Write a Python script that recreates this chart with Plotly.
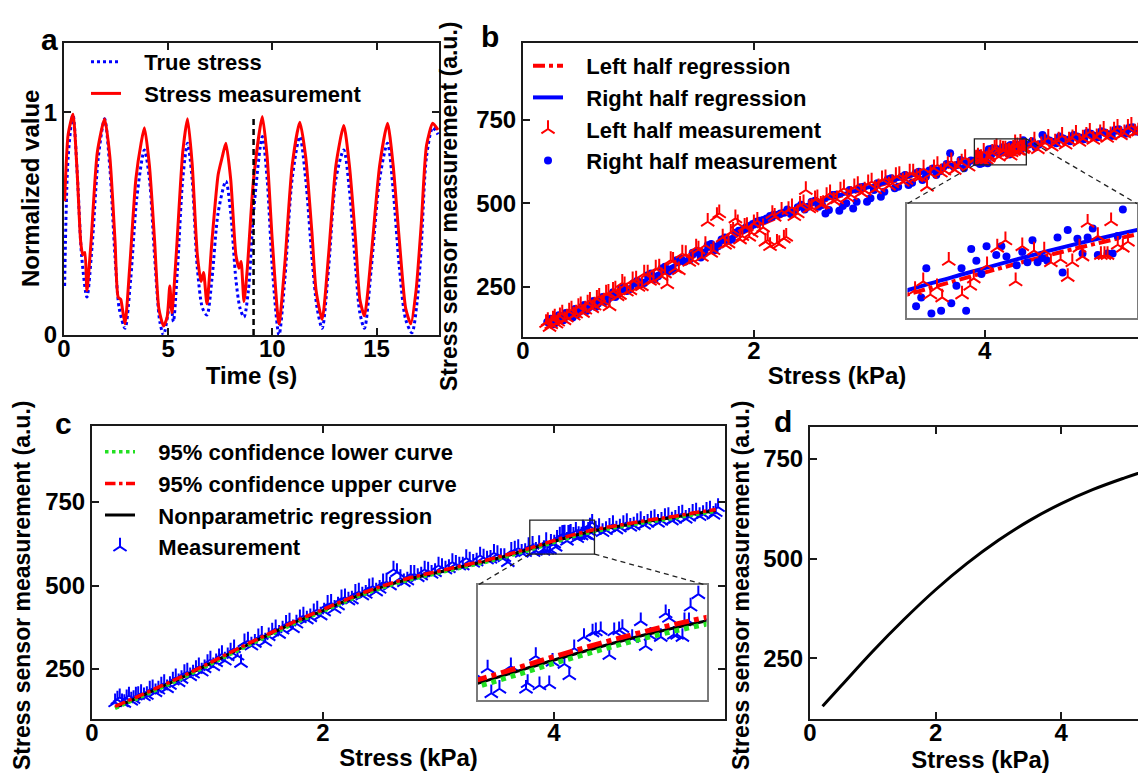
import plotly.graph_objects as go

W, H = 1146, 773

# ---------------- panel a : time series ----------------
time_true = [0.03,0.2,0.43,0.65,0.85,1.1,1.35,1.65,1.95,2.2,2.45,2.65,2.93,3.2,3.5,3.86,4.1,4.35,4.6,4.78,
             5.0,5.12,5.25,5.45,5.7,5.93,6.15,6.4,6.65,6.86,7.1,7.4,7.77,8.0,8.25,8.45,8.64,8.85,9.1,9.52,
             9.75,10.0,10.32,10.6,10.95,11.32,11.6,11.9,12.15,12.39,12.7,13.05,13.43,13.7,14.0,14.2,14.42,
             14.75,15.15,15.53,15.8,16.1,16.4,16.7,16.95,17.15,17.4,17.7,17.95]
true_stress = [0.22,0.8,0.99,0.7,0.35,0.17,0.4,0.8,0.97,0.75,0.35,0.12,0.03,0.25,0.62,0.83,0.7,0.35,0.06,0.0,
               0.1,0.15,0.06,0.3,0.7,0.86,0.7,0.3,0.12,0.09,0.25,0.55,0.69,0.55,0.25,0.12,0.08,0.2,0.55,0.89,
               0.7,0.3,0.0,0.25,0.7,0.89,0.7,0.35,0.12,0.03,0.3,0.7,0.83,0.65,0.3,0.1,0.03,
               0.3,0.7,0.86,0.65,0.3,0.07,0.01,0.15,0.4,0.8,0.93,0.9]
time_meas = [0.03,0.2,0.43,0.62,0.8,0.9,1.0,1.1,1.3,1.6,1.95,2.2,2.45,2.6,2.72,2.8,2.93,3.15,3.45,3.7,
             3.86,4.1,4.35,4.55,4.78,4.95,5.08,5.18,5.4,5.7,5.93,6.15,6.4,6.58,6.7,6.86,7.1,7.4,7.6,7.77,
             8.0,8.25,8.4,8.5,8.64,8.8,9.1,9.52,9.75,10.0,10.32,10.6,10.95,11.32,11.6,11.9,12.1,12.39,12.7,
             13.05,13.43,13.7,14.0,14.2,14.42,14.75,15.15,15.53,15.8,16.1,16.4,16.65,16.9,17.15,17.4,17.7,17.95]
stress_meas = [0.6,0.9,0.99,0.75,0.42,0.36,0.37,0.2,0.42,0.82,0.97,0.8,0.42,0.17,0.16,0.12,0.05,0.3,0.7,0.86,
               0.93,0.76,0.42,0.12,0.04,0.08,0.22,0.1,0.38,0.82,0.97,0.77,0.36,0.24,0.28,0.14,0.42,0.72,0.8,0.86,
               0.7,0.36,0.3,0.33,0.15,0.3,0.7,0.98,0.8,0.42,0.05,0.32,0.76,0.955,0.8,0.46,0.2,0.07,0.36,
               0.76,0.94,0.76,0.42,0.16,0.086,0.36,0.76,0.95,0.76,0.42,0.12,0.05,0.2,0.5,0.85,0.95,0.92]
split_time = 9.1
split_top = 0.98

# ---------------- panel b : left / right halves ----------------
reg_x = [0.2,0.4,0.6,0.8,1.0,1.2,1.4,1.6,1.8,2.0,2.2,2.4,2.6,2.8,3.0,3.2,3.4,3.6,3.8,4.0,4.2,4.4,4.6,4.8,5.0,5.2,5.4]
right_reg = [140,170,200,230,260,295,330,364,398,430,460,486,510,530,549,568,587,605,623,643,662,678,690,700,709,717,725]
left_reg = [137,167,197,227,257,292,327,361,395,427,457,483,507,527,546,565,584,602,620,640,659,675,687,697,706,714,722]

left_x = [0.20,0.23,0.26,0.29,0.32,0.36,0.40,0.44,0.48,0.52,0.56,0.60,0.64,0.68,0.72,0.75,0.78,0.82,0.86,0.90,
          0.95,1.00,1.05,1.10,1.15,1.20,1.25,1.28,1.32,1.38,1.44,1.50,1.55,1.60,1.65,1.70,1.75,1.80,1.84,1.88,
          1.92,1.96,2.00,2.05,2.10,2.14,2.18,2.22,2.26,2.30,2.35,2.40,2.45,2.50,2.55,2.60,2.66,2.72,2.78,2.84,
          2.90,2.96,3.02,3.08,3.14,3.20,3.26,3.32,3.38,3.44,3.50,3.56,3.62,3.68,3.74,3.80,3.86,
          3.925,3.941,3.955,3.968,3.978,3.991,4.017,4.033,4.040,4.066,4.086,4.102,4.122,4.135,4.158,4.178,
          4.191,4.210,4.224,4.233,4.247,4.253,4.263,4.283,4.289,4.296,4.302,4.309,4.322,4.332,4.342,
          4.40,4.46,4.52,4.58,4.64,4.70,4.76,4.82,4.88,4.94,5.00,5.06,5.12,5.18,5.24,5.30,5.35,5.40,
          0.215,0.245,0.275,0.305,0.34,0.38,0.42,0.46,0.50,0.54,0.58,0.62,0.66,0.70,0.74,0.80,0.84,0.88,0.93,0.98,
          1.03,1.08,1.13,1.18,1.23,1.30,1.35,1.41,1.47,1.52,1.58,1.63,1.68,1.73,1.78,1.82,1.86,1.90,1.94,1.98,
          2.03,2.08,2.12,2.16,2.20,2.24,2.28,2.33,2.38,2.43,2.48,2.53,2.58,2.63,2.69,2.75,2.81,2.87,2.93,2.99,
          3.05,3.11,3.17,3.23,3.29,3.35,3.41,3.47,3.53,3.59,3.65,3.71,3.77,3.83,
          4.43,4.49,4.55,4.61,4.67,4.73,4.79,4.85,4.91,4.97,5.03,5.09,5.15,5.21,5.27,5.33,5.38]
left_y = [142,130,152,140,162,150,176,164,190,172,200,186,214,200,230,192,238,222,262,236,
          270,250,290,268,305,282,258,330,305,350,325,368,340,445,360,470,376,412,455,392,
          430,400,440,418,385,372,460,378,395,480,462,496,540,488,515,498,530,512,545,525,
          555,538,565,548,575,560,585,570,592,578,550,605,592,615,600,622,610,
          634,640,631,636,629,654,631,637,642,651,663,668,640,664,661,661,
          653,655,643,653,663,657,680,671,658,658,658,681,665,663,667,
          672,662,682,670,688,676,695,684,702,690,710,696,718,704,726,712,735,718,
          148,138,158,146,170,158,182,170,195,182,208,194,220,206,232,242,226,255,240,272,
          252,290,270,308,290,328,300,348,330,362,375,352,462,398,380,418,440,402,432,412,
          448,428,390,468,382,478,400,488,470,500,485,512,496,522,508,538,518,548,532,560,
          542,572,553,582,565,592,578,604,588,615,598,626,610,636,
          688,674,696,682,702,688,708,694,714,698,720,704,726,710,732,715,740]

right_x = [0.21,0.24,0.27,0.31,0.35,0.39,0.43,0.47,0.51,0.55,0.59,0.63,0.67,0.71,0.76,0.80,0.85,0.90,0.96,1.02,
           1.08,1.14,1.20,1.26,1.33,1.40,1.47,1.54,1.60,1.66,1.72,1.78,1.84,1.90,1.96,2.02,2.08,2.14,2.20,2.26,
           2.32,2.38,2.44,2.50,2.56,2.62,2.68,2.74,2.80,2.86,2.92,2.98,3.04,3.10,3.16,3.22,3.28,3.34,3.40,3.46,
           3.52,3.58,3.64,3.70,3.76,3.82,3.88,
           3.927,3.937,3.947,3.957,3.976,3.996,4.006,4.016,4.025,4.035,4.045,4.055,4.065,4.084,4.094,4.104,
           4.124,4.135,4.145,4.155,4.165,4.174,4.184,4.204,4.214,4.224,4.243,4.253,4.263,4.273,4.283,4.302,
           4.312,4.322,4.332,
           4.38,4.44,4.50,4.56,4.62,4.68,4.74,4.80,4.86,4.92,4.98,5.04,5.10,5.16,5.22,5.28,5.34,5.40,
           0.225,0.255,0.29,0.33,0.37,0.41,0.45,0.49,0.53,0.57,0.61,0.65,0.69,0.735,0.78,0.825,0.875,0.93,0.99,1.05,
           1.11,1.17,1.23,1.30,1.37,1.44,1.51,1.57,1.63,1.69,1.75,1.81,1.87,1.93,1.99,2.05,2.11,2.17,2.23,2.29,
           2.35,2.41,2.47,2.53,2.59,2.65,2.71,2.77,2.83,2.89,2.95,3.01,3.07,3.13,3.19,3.25,3.31,3.37,3.43,3.49,
           3.55,3.61,3.67,3.73,3.79,3.85,
           4.41,4.47,4.53,4.59,4.65,4.71,4.77,4.83,4.89,4.95,5.01,5.07,5.13,5.19,5.25,5.31,5.37]
right_y = [145,155,138,165,150,172,158,168,190,178,200,190,212,205,225,220,245,238,262,258,
           285,272,305,295,330,325,352,338,375,360,392,388,412,420,432,445,450,462,465,472,
           468,488,482,505,490,470,525,478,500,485,548,505,540,520,572,545,580,555,590,570,
           598,585,608,650,615,605,628,
           623,629,649,618,620,625,637,649,620,662,654,645,664,658,664,657,
           651,660,653,668,653,656,654,670,646,675,669,659,670,676,658,659,
           659,671,689,
           676,668,705,688,680,694,686,700,692,708,698,712,702,722,708,728,714,730,
           150,142,160,152,172,165,184,176,196,188,208,200,220,212,234,228,250,244,268,262,
           290,282,310,300,334,330,358,350,378,372,398,392,418,428,438,448,455,466,470,482,
           476,496,490,508,495,480,526,492,540,505,550,515,560,535,575,550,585,562,595,580,
           604,596,618,610,630,620,
           686,676,694,684,700,690,705,694,712,700,716,706,720,710,726,715,728]

# ---------------- panel c : nonparametric regression ----------------
npr = [135,165,196,228,262,297,331,364,396,425,455,482,505,524,540,556,572,590,610,632,652,668,680,692,702,714,725]
ci_low = [132,162,193,225,259,294,328,361,393,422,452,479,502,521,537,553,569,587,607,629,649,665,677,689,699,711,722]
ci_up = [138,168,199,231,265,300,334,367,399,428,458,485,508,527,543,559,575,593,613,635,655,671,683,695,705,717,728]

meas_x = [0.20,0.24,0.28,0.32,0.36,0.40,0.45,0.50,0.55,0.60,0.65,0.70,0.75,0.80,0.85,0.90,0.95,1.00,1.05,1.10,
          1.15,1.20,1.26,1.29,1.32,1.38,1.44,1.50,1.56,1.62,1.68,1.74,1.80,1.86,1.92,1.98,2.04,2.10,2.16,2.22,
          2.28,2.34,2.40,2.46,2.52,2.58,2.64,2.70,2.76,2.82,2.88,2.94,3.00,3.06,3.12,3.18,3.24,3.30,3.36,3.42,
          3.48,3.54,3.60,3.66,3.72,3.78,
          3.814,3.823,3.843,3.871,3.908,3.912,3.932,3.941,3.965,3.973,4.002,4.014,4.026,4.050,4.071,4.079,
          4.091,4.112,4.124,4.136,4.144,4.168,4.189,4.201,4.213,4.238,4.250,4.258,4.270,4.278,4.291,4.296,
          4.307,4.311,4.330,
          4.36,4.42,4.48,4.54,4.60,4.66,4.72,4.78,4.84,4.90,4.96,5.02,5.08,5.14,5.20,5.26,5.32,5.38,5.42,
          0.22,0.26,0.30,0.34,0.38,0.425,0.475,0.525,0.575,0.625,0.675,0.725,0.775,0.825,0.875,0.925,0.975,1.025,1.075,1.125,
          1.175,1.23,1.35,1.41,1.47,1.53,1.59,1.65,1.71,1.77,1.83,1.89,1.95,2.01,2.07,2.13,2.19,2.25,2.31,2.37,
          2.43,2.49,2.55,2.61,2.67,2.73,2.79,2.85,2.91,2.97,3.03,3.09,3.15,3.21,3.27,3.33,3.39,3.45,3.51,3.57,
          3.63,3.69,3.75,
          4.39,4.45,4.51,4.57,4.63,4.69,4.75,4.81,4.87,4.93,4.99,5.05,5.11,5.17,5.23,5.29,5.35,5.40]
meas_y = [150,165,148,170,160,172,168,188,180,200,192,215,210,238,228,250,242,268,258,285,
          275,302,290,268,330,320,345,332,362,355,385,372,402,398,420,410,445,430,462,455,
          478,470,495,482,510,500,540,510,535,525,548,535,560,548,570,560,582,568,590,578,
          598,585,570,608,598,618,
          622,600,604,624,604,609,633,607,608,628,626,616,640,650,654,655,
          656,634,655,656,658,649,664,642,651,650,671,667,652,652,650,664,
          664,677,688,
          668,660,676,668,684,676,690,682,698,688,705,695,712,700,718,708,724,712,735,
          158,150,162,155,170,178,172,192,188,208,202,225,220,242,236,258,252,278,270,295,
          288,312,335,328,352,348,372,368,392,386,410,405,428,422,448,440,465,458,482,475,
          498,490,512,548,522,515,535,530,545,540,555,552,565,560,575,572,584,580,594,585,
          604,612,600,
          675,666,684,674,690,680,696,688,702,694,708,700,716,706,722,714,728,720]

# ---------------- panel d : fitted curve ----------------
d_x = [0.2,0.5,1.0,1.5,2.0,2.5,3.0,3.5,4.0,4.5,5.0,5.4]
d_y = [130,182,268,348,422,488,546,596,638,673,702,723]

# ---------------- zoom windows (data coordinates) ----------------
zoom_b = [3.91, 4.36, 615, 693]      # x0, x1, y0, y1
inset_b = [3.33, 5.32, 157, 499]
zoom_c = [3.79, 4.35, 594, 696]
inset_c = [3.34, 5.32, 157, 501]

# ---------------- layout geometry ----------------
def xd(p0, p1):
    return [p0 / W, p1 / W]

def yd(top, bot):
    return [1 - bot / H, 1 - top / H]

dom = {
    'a': (xd(56, 431), yd(35, 327), [0, 18], [0, 1.31]),
    'b': (xd(515, 1143), yd(35, 329), [0, 5.44], [100, 980]),
    'c': (xd(84, 717), yd(418, 711), [0, 5.48], [100, 978]),
    'd': (xd(802, 1143), yd(419, 711), [0, 5.43], [98, 830]),
}

def inset_domain(rect, key):
    xdm, ydm, xr, yr = dom[key]
    fx = lambda v: xdm[0] + (v - xr[0]) / (xr[1] - xr[0]) * (xdm[1] - xdm[0])
    fy = lambda v: ydm[0] + (v - yr[0]) / (yr[1] - yr[0]) * (ydm[1] - ydm[0])
    return [fx(rect[0]), fx(rect[1])], [fy(rect[2]), fy(rect[3])]

FONT = 'Arial'
BLUE = '#0000ff'
RED = '#ff0000'
GREEN = '#22e022'
AX = '#1a1a1a'
PAD = '\u00a0\u00a0\u00a0'

fig = go.Figure()

# panel a
fig.add_trace(go.Scatter(x=time_true, y=true_stress, mode='lines', name=PAD + 'True stress',
                         line=dict(color=BLUE, width=3, dash='3px,3px', shape='spline', smoothing=0.8),
                         xaxis='x', yaxis='y', legend='legend'))
fig.add_trace(go.Scatter(x=time_meas, y=stress_meas, mode='lines', name=PAD + 'Stress measurement',
                         line=dict(color=RED, width=3, shape='spline', smoothing=0.6),
                         xaxis='x', yaxis='y', legend='legend'))
fig.add_trace(go.Scatter(x=[split_time, split_time], y=[0, split_top], mode='lines', showlegend=False,
                         line=dict(color='black', width=2.5, dash='6px,4px'), xaxis='x', yaxis='y'))

# panel b (main + inset)
for xa, ya, show in (('x2', 'y2', True), ('x5', 'y5', False)):
    fig.add_trace(go.Scatter(x=reg_x, y=left_reg, mode='lines', name=PAD + 'Left half regression',
                             line=dict(color=RED, width=4, dash='dashdot', shape='spline'),
                             xaxis=xa, yaxis=ya, showlegend=show, legend='legend2', legendrank=1))
    fig.add_trace(go.Scatter(x=reg_x, y=right_reg, mode='lines', name=PAD + 'Right half regression',
                             line=dict(color=BLUE, width=4, shape='spline'),
                             xaxis=xa, yaxis=ya, showlegend=show, legend='legend2', legendrank=2))
    fig.add_trace(go.Scatter(x=right_x, y=right_y, mode='markers', name=PAD + 'Right half measurement',
                             marker=dict(symbol='circle', size=8, color=BLUE),
                             xaxis=xa, yaxis=ya, showlegend=show, legend='legend2', legendrank=4))
    fig.add_trace(go.Scatter(x=left_x, y=left_y, mode='markers', name=PAD + 'Left half measurement',
                             marker=dict(symbol='y-up', size=11, line=dict(color=RED, width=2), color=RED),
                             xaxis=xa, yaxis=ya, showlegend=show, legend='legend2', legendrank=3))

# panel c (main + inset)
for xa, ya, show, lw in (('x3', 'y3', True, 3.5), ('x6', 'y6', False, 5)):
    fig.add_trace(go.Scatter(x=meas_x, y=meas_y, mode='markers', name=PAD + 'Measurement',
                             marker=dict(symbol='y-up', size=11, line=dict(color=BLUE, width=2), color=BLUE),
                             xaxis=xa, yaxis=ya, showlegend=show, legend='legend3', legendrank=4))
    fig.add_trace(go.Scatter(x=reg_x, y=npr, mode='lines', name=PAD + 'Nonparametric regression',
                             line=dict(color='black', width=3, shape='spline'),
                             xaxis=xa, yaxis=ya, showlegend=show, legend='legend3', legendrank=3))
    fig.add_trace(go.Scatter(x=reg_x, y=ci_low, mode='lines', name=PAD + '95% confidence lower curve',
                             line=dict(color=GREEN, width=lw, dash='dot', shape='spline'),
                             xaxis=xa, yaxis=ya, showlegend=show, legend='legend3', legendrank=1))
    fig.add_trace(go.Scatter(x=reg_x, y=ci_up, mode='lines', name=PAD + '95% confidence upper curve',
                             line=dict(color=RED, width=lw, dash='dashdot', shape='spline'),
                             xaxis=xa, yaxis=ya, showlegend=show, legend='legend3', legendrank=2))

# panel d
fig.add_trace(go.Scatter(x=d_x, y=d_y, mode='lines', showlegend=False,
                         line=dict(color='black', width=3, shape='spline'), xaxis='x4', yaxis='y4'))

tickfont = dict(family=FONT, size=24, color='black', weight='bold')
titlefont = dict(family=FONT, size=24, color='black', weight='bold')
ytitlefont = dict(family=FONT, size=23, color='black', weight='bold')

def axis_style(**kw):
    d = dict(showline=True, linecolor=AX, linewidth=2, mirror='ticks', ticks='inside', ticklen=7,
             tickwidth=2, tickcolor=AX, showgrid=False, zeroline=False, tickfont=tickfont,
             automargin=False)
    d.update(kw)
    return d

def inset_axis(**kw):
    d = dict(showline=True, linecolor='#7a7a7a', linewidth=1.5, mirror=True, ticks='', showticklabels=False,
             showgrid=False, zeroline=False, automargin=False)
    d.update(kw)
    return d

ib_x, ib_y = inset_domain(inset_b, 'b')
ic_x, ic_y = inset_domain(inset_c, 'c')

layout = dict(
    width=W, height=H, margin=dict(l=0, r=0, t=0, b=0),
    paper_bgcolor='white', plot_bgcolor='rgba(0,0,0,0)',
    font=dict(family=FONT, size=24, color='black', weight='bold'),
    xaxis=axis_style(domain=dom['a'][0], range=dom['a'][2], anchor='y', tickvals=[0, 5, 10, 15],
                     ticklabelstandoff=-9, title=dict(text='Time (s)', font=titlefont, standoff=4)),
    yaxis=axis_style(domain=dom['a'][1], range=dom['a'][3], anchor='x', tickvals=[0, 1]),
    xaxis2=axis_style(domain=dom['b'][0], range=dom['b'][2], anchor='y2', tickvals=[0, 2, 4],
                      ticklabelstandoff=-9, title=dict(text='Stress (kPa)', font=titlefont, standoff=4)),
    yaxis2=axis_style(domain=dom['b'][1], range=dom['b'][3], anchor='x2', tickvals=[250, 500, 750]),
    xaxis3=axis_style(domain=dom['c'][0], range=dom['c'][2], anchor='y3', tickvals=[0, 2, 4],
                      ticklabelstandoff=-9, title=dict(text='Stress (kPa)', font=titlefont, standoff=4)),
    yaxis3=axis_style(domain=dom['c'][1], range=dom['c'][3], anchor='x3', tickvals=[250, 500, 750]),
    xaxis4=axis_style(domain=dom['d'][0], range=dom['d'][2], anchor='y4', tickvals=[0, 2, 4],
                      ticklabelstandoff=-9, title=dict(text='Stress (kPa)', font=titlefont, standoff=4)),
    yaxis4=axis_style(domain=dom['d'][1], range=dom['d'][3], anchor='x4', tickvals=[250, 500, 750]),
    xaxis5=inset_axis(domain=ib_x, range=[zoom_b[0], zoom_b[1]], anchor='y5'),
    yaxis5=inset_axis(domain=ib_y, range=[zoom_b[2], zoom_b[3]], anchor='x5'),
    xaxis6=inset_axis(domain=ic_x, range=[zoom_c[0], zoom_c[1]], anchor='y6'),
    yaxis6=inset_axis(domain=ic_y, range=[zoom_c[2], zoom_c[3]], anchor='x6'),
    legend=dict(x=78 / W, y=1 - 33 / H, xanchor='left', yanchor='top', bgcolor='rgba(0,0,0,0)',
                font=dict(family=FONT, size=22, color='black', weight='bold'), borderwidth=0),
    legend2=dict(x=520 / W, y=1 - 37 / H, xanchor='left', yanchor='top', bgcolor='rgba(0,0,0,0)',
                 font=dict(family=FONT, size=22, color='black', weight='bold'), borderwidth=0),
    legend3=dict(x=92 / W, y=1 - 423 / H, xanchor='left', yanchor='top', bgcolor='rgba(0,0,0,0)',
                 font=dict(family=FONT, size=22, color='black', weight='bold'), borderwidth=0),
)
fig.update_layout(**layout)

shapes = []
for zb, ib, xr, yr in ((zoom_b, inset_b, 'x2', 'y2'), (zoom_c, inset_c, 'x3', 'y3')):
    shapes.append(dict(type='rect', xref=xr, yref=yr, x0=zb[0], x1=zb[1], y0=zb[2], y1=zb[3],
                       line=dict(color='#222222', width=1.3)))
    shapes.append(dict(type='line', xref=xr, yref=yr, x0=zb[0], y0=zb[2], x1=ib[0], y1=ib[3],
                       line=dict(color='#222222', width=1.3, dash='5px,4px')))
shapes.append(dict(type='line', xref='x2', yref='y2', x0=zoom_b[1], y0=zoom_b[3], x1=inset_b[1], y1=inset_b[3],
                   line=dict(color='#222222', width=1.3, dash='5px,4px')))
shapes.append(dict(type='line', xref='x3', yref='y3', x0=zoom_c[1], y0=zoom_c[2], x1=inset_c[1], y1=inset_c[3],
                   line=dict(color='#222222', width=1.3, dash='5px,4px')))
fig.update_layout(shapes=shapes)

letters = [('a', 41, 32), ('b', 482, 28), ('c', 55, 415), ('d', 775, 413)]
annotations = [
    dict(text=t, x=px / W, y=1 - py / H, xref='paper', yref='paper', showarrow=False,
         xanchor='center', yanchor='middle', font=dict(family=FONT, size=30, color='black', weight='bold'))
    for t, px, py in letters
]
ytitles = [('Normalized value', 22, 181, titlefont), ('Stress sensor measurement (a.u.)', 441, 199, ytitlefont),
           ('Stress sensor measurement (a.u.)', 14, 578, ytitlefont),
           ('Stress sensor measurement (a.u.)', 733, 578, ytitlefont)]
annotations += [
    dict(text=t, x=px / W, y=1 - py / H, xref='paper', yref='paper', showarrow=False, textangle=-90,
         xanchor='center', yanchor='middle', font=f)
    for t, px, py, f in ytitles
]
fig.update_layout(annotations=annotations)

fig.write_html('out.html')
